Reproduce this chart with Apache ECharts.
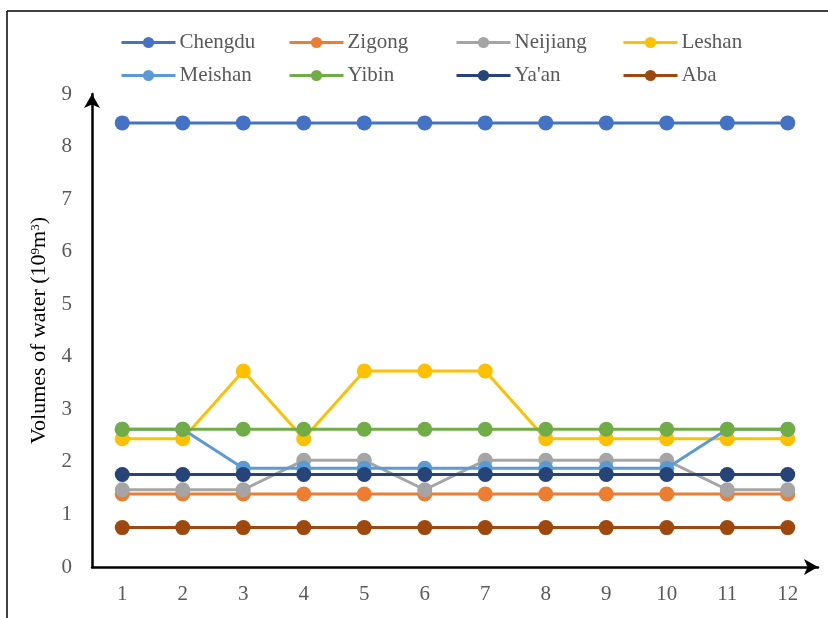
<!DOCTYPE html>
<html>
<head>
<meta charset="utf-8">
<script src="https://cdn.jsdelivr.net/npm/echarts@6/dist/echarts.min.js"></script>
<style>
  html, body { margin: 0; padding: 0; background: #fff; }
  #chart { width: 828px; height: 618px; }
</style>
</head>
<body>
<div id="chart"></div>
<script>
// Monthly water volumes (10^9 m^3) for cities in Sichuan
const months = ['1', '2', '3', '4', '5', '6', '7', '8', '9', '10', '11', '12'];
const cityNames = ['Chengdu', 'Zigong', 'Neijiang', 'Leshan', 'Meishan', 'Yibin', "Ya'an", 'Aba'];
const chengdu  = [8.45, 8.45, 8.45, 8.45, 8.45, 8.45, 8.45, 8.45, 8.45, 8.45, 8.45, 8.45];
const zigong   = [1.39, 1.39, 1.39, 1.39, 1.39, 1.39, 1.39, 1.39, 1.39, 1.39, 1.39, 1.39];
const neijiang = [1.47, 1.47, 1.47, 2.03, 2.03, 1.47, 2.03, 2.03, 2.03, 2.03, 1.47, 1.47];
const leshan   = [2.44, 2.44, 3.73, 2.44, 3.73, 3.73, 3.73, 2.44, 2.44, 2.44, 2.44, 2.44];
const meishan  = [2.62, 2.62, 1.88, 1.88, 1.88, 1.88, 1.88, 1.88, 1.88, 1.88, 2.62, 2.62];
const yibin    = [2.62, 2.62, 2.62, 2.62, 2.62, 2.62, 2.62, 2.62, 2.62, 2.62, 2.62, 2.62];
const yaan     = [1.76, 1.76, 1.76, 1.76, 1.76, 1.76, 1.76, 1.76, 1.76, 1.76, 1.76, 1.76];
const aba      = [0.75, 0.75, 0.75, 0.75, 0.75, 0.75, 0.75, 0.75, 0.75, 0.75, 0.75, 0.75];
const yTicks = [0, 1, 2, 3, 4, 5, 6, 7, 8, 9];

const seriesValues = [chengdu, zigong, neijiang, leshan, meishan, yibin, yaan, aba];
const palette = ['#4472C4', '#ED7D31', '#A5A5A5', '#FFC000', '#5B9BD5', '#70AD47', '#264478', '#9E480E'];
const serif = '"Liberation Serif", "DejaVu Serif", serif';

// legend laid out as a 4 x 2 grid
const legendCols = [120, 288, 455, 622];
const legendRows = [32, 65];
const legends = cityNames.map((name, i) => ({
  data: [name],
  left: legendCols[i % 4],
  top: legendRows[Math.floor(i / 4)],
  itemWidth: 54,
  itemHeight: 14,
  itemGap: 0,
  padding: 0,
  selectedMode: false,
  lineStyle: { width: 3 },
  textStyle: { fontFamily: serif, fontSize: 21, color: '#595959', padding: [0, 0, 0, -1] }
}));

// later cities are drawn on top of earlier ones
const series = cityNames.map((name, i) => ({
  name: name,
  type: 'line',
  data: seriesValues[i],
  symbol: 'circle',
  symbolSize: 15,
  lineStyle: { width: 3, color: palette[i] },
  itemStyle: { color: palette[i] },
  animation: false,
  z: 2 + i
}));

const chart = echarts.init(document.getElementById('chart'), null, { renderer: 'canvas' });
chart.setOption({
  backgroundColor: '#fff',
  animation: false,
  legend: legends,
  grid: { left: 92, right: 10, top: 94, bottom: 51 },
  xAxis: {
    type: 'category',
    data: months,
    boundaryGap: true,
    axisLine: {
      lineStyle: { color: '#000', width: 2.5 },
      symbol: ['none', 'arrow'],
      symbolSize: [12, 14],
      symbolOffset: [0, 0]
    },
    axisTick: { show: false },
    axisLabel: { fontFamily: serif, fontSize: 21, color: '#595959', margin: 17 }
  },
  yAxis: {
    type: 'value',
    min: yTicks[0],
    max: yTicks[yTicks.length - 1],
    interval: 1,
    name: '{n|Volumes of water (10}{s|9}{n|m}{s|3}{n|)}',
    nameLocation: 'middle',
    nameGap: 40,
    nameRotate: 90,
    nameTextStyle: {
      rich: {
        n: { fontFamily: serif, fontSize: 22, color: '#000' },
        s: { fontFamily: serif, fontSize: 13, color: '#000', verticalAlign: 'top', padding: [0, 0, 8, 0] }
      }
    },
    splitLine: { show: false },
    axisTick: { show: false },
    axisLine: {
      show: true,
      lineStyle: { color: '#000', width: 2.5 },
      symbol: ['none', 'arrow'],
      symbolSize: [12, 14]
    },
    axisLabel: { fontFamily: serif, fontSize: 21, color: '#595959', margin: 20 }
  },
  graphic: [
    { type: 'line', shape: { x1: 7, y1: 11, x2: 828, y2: 11 }, style: { stroke: '#000', lineWidth: 1.5 } },
    { type: 'line', shape: { x1: 7, y1: 11, x2: 7, y2: 618 }, style: { stroke: '#000', lineWidth: 1.5 } }
  ],
  series: series
});
</script>
</body>
</html>
